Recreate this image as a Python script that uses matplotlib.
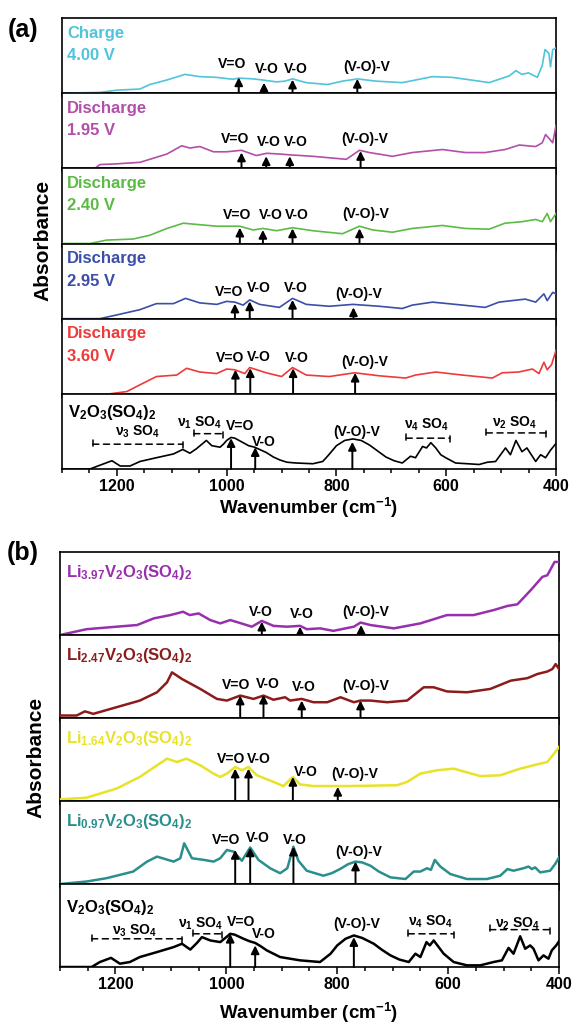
import matplotlib
matplotlib.use('Agg')
import matplotlib.pyplot as plt
from matplotlib.ticker import MultipleLocator

plt.rcParams['font.family'] = ['Liberation Sans', 'DejaVu Sans']
plt.rcParams['font.weight'] = 'bold'
plt.rcParams['mathtext.fontset'] = 'custom'
plt.rcParams['mathtext.rm'] = 'Liberation Sans:bold'
plt.rcParams['mathtext.bf'] = 'Liberation Sans:bold'
plt.rcParams['mathtext.it'] = 'Liberation Sans:bold'
plt.rcParams['mathtext.default'] = 'bf'

# ================================
# (a) ex-situ spectra at different voltages (normalised, 0 = baseline of strip)
# ================================
wn_a1 = [1300, 1231, 1200, 1158, 1140, 1109, 1076, 1049, 1018, 989, 978, 952, 934, 909, 894,
         880, 855, 816, 789, 762, 728, 680, 625, 589, 540, 522, 485, 473, 462, 450, 434, 425,
         420, 413, 410, 406, 400]
ab_a1 = [0, 0.01, 0.04, 0.055, 0.115, 0.175, 0.25, 0.22, 0.21, 0.185, 0.2, 0.19, 0.175, 0.15, 0.16,
         0.19, 0.14, 0.115, 0.16, 0.19, 0.16, 0.14, 0.22, 0.21, 0.16, 0.14, 0.23, 0.30, 0.25, 0.27,
         0.21, 0.37, 0.58, 0.53, 0.35, 0.58, 0.60]

wn_a2 = [1300, 1240, 1231, 1200, 1158, 1140, 1109, 1082, 1067, 1049, 1024, 1000, 973, 946, 927,
         903, 886, 843, 782, 758, 740, 698, 662, 607, 565, 529, 493, 467, 437, 425, 419, 413, 406, 400]
ab_a2 = [0, 0, 0.05, 0.06, 0.08, 0.12, 0.19, 0.30, 0.27, 0.29, 0.22, 0.22, 0.24, 0.17, 0.20,
         0.19, 0.18, 0.16, 0.12, 0.24, 0.21, 0.16, 0.21, 0.25, 0.21, 0.21, 0.25, 0.31, 0.29, 0.34,
         0.45, 0.40, 0.34, 0.57]

wn_a3 = [1300, 1249, 1219, 1170, 1140, 1109, 1079, 1049, 1018, 976, 952, 934, 909, 880, 843,
         789, 758, 734, 698, 662, 607, 565, 522, 493, 462, 437, 425, 416, 410, 400]
ab_a3 = [0, 0, 0.045, 0.06, 0.11, 0.20, 0.27, 0.25, 0.23, 0.23, 0.18, 0.20, 0.17, 0.21, 0.17,
         0.13, 0.23, 0.18, 0.15, 0.20, 0.24, 0.20, 0.19, 0.27, 0.29, 0.32, 0.29, 0.40, 0.29, 0.40]

wn_a4 = [1300, 1231, 1200, 1158, 1128, 1097, 1075, 1049, 1018, 1000, 985, 970, 958, 940, 904,
         880, 855, 813, 770, 722, 680, 662, 625, 583, 529, 504, 480, 456, 437, 422, 416, 406, 400]
ab_a4 = [0, 0, 0.05, 0.12, 0.20, 0.20, 0.27, 0.21, 0.19, 0.23, 0.22, 0.18, 0.25, 0.19, 0.15,
         0.27, 0.19, 0.165, 0.19, 0.165, 0.135, 0.18, 0.22, 0.19, 0.15, 0.22, 0.24, 0.26, 0.22,
         0.33, 0.24, 0.35, 0.33]

wn_a5 = [1300, 1213, 1182, 1158, 1128, 1091, 1073, 1049, 1018, 1000, 985, 967, 958, 928, 900,
         880, 855, 813, 767, 722, 674, 656, 619, 571, 516, 498, 468, 443, 431, 422, 416, 408, 400]
ab_a5 = [0, 0, 0.03, 0.12, 0.23, 0.25, 0.34, 0.29, 0.27, 0.33, 0.32, 0.27, 0.35, 0.28, 0.23,
         0.35, 0.25, 0.23, 0.28, 0.24, 0.21, 0.25, 0.29, 0.25, 0.21, 0.28, 0.29, 0.33, 0.27, 0.42,
         0.32, 0.39, 0.58]

wn_ref = [1300, 1249, 1231, 1209, 1194, 1176, 1158, 1128, 1097, 1080, 1067, 1055, 1037, 1027, 1012,
          1006, 1000, 992, 985, 970, 960, 949, 940, 928, 915, 903, 890, 874, 843, 825, 815, 800,
          785, 770, 755, 740, 725, 710, 695, 680, 665, 656, 643, 636, 628, 619, 610, 601, 583,
          540, 525, 510, 492, 483, 473, 462, 453, 437, 428, 419, 410, 400]
ab_ref = [0, 0, 0.05, 0.11, 0.04, 0.04, 0.10, 0.15, 0.20, 0.26, 0.21, 0.27, 0.38, 0.31, 0.29,
          0.33, 0.38, 0.42, 0.41, 0.35, 0.31, 0.29, 0.26, 0.22, 0.16, 0.12, 0.09, 0.08, 0.07, 0.10,
          0.18, 0.31, 0.38, 0.40, 0.38, 0.32, 0.24, 0.16, 0.11, 0.08, 0.17, 0.15, 0.30, 0.28, 0.35,
          0.28, 0.19, 0.15, 0.08, 0.06, 0.09, 0.10, 0.28, 0.19, 0.38, 0.23, 0.28, 0.10, 0.19, 0.15,
          0.25, 0.34]

# ================================
# (b) chemically lithiated samples
# ================================
wn_b1 = [1300, 1252, 1198, 1161, 1131, 1101, 1078, 1066, 1050, 1029, 1011, 993, 978, 954, 936,
         915, 891, 867, 855, 831, 807, 770, 758, 740, 698, 650, 602, 554, 518, 493, 475, 451, 430,
         421, 408, 400]
ab_b1 = [0, 0.07, 0.10, 0.12, 0.20, 0.24, 0.28, 0.24, 0.26, 0.18, 0.14, 0.18, 0.15, 0.10, 0.17,
         0.11, 0.10, 0.11, 0.07, 0.08, 0.05, 0.10, 0.15, 0.12, 0.08, 0.14, 0.24, 0.24, 0.30, 0.35,
         0.37, 0.54, 0.70, 0.72, 0.88, 0.88]

wn_b2 = [1300, 1270, 1255, 1240, 1198, 1156, 1125, 1107, 1098, 1080, 1047, 1017, 999, 975, 951,
         933, 915, 894, 885, 864, 843, 818, 794, 770, 758, 740, 710, 674, 644, 626, 602, 566, 524,
         487, 457, 439, 421, 412, 406, 400]
ab_b2 = [0.03, 0.03, 0.08, 0.05, 0.13, 0.21, 0.31, 0.43, 0.55, 0.47, 0.35, 0.23, 0.21, 0.27, 0.23,
         0.27, 0.22, 0.25, 0.21, 0.23, 0.19, 0.19, 0.25, 0.19, 0.21, 0.21, 0.19, 0.21, 0.37, 0.37,
         0.32, 0.31, 0.35, 0.45, 0.48, 0.53, 0.56, 0.59, 0.65, 0.59]

wn_b3 = [1300, 1252, 1198, 1156, 1125, 1107, 1089, 1072, 1047, 1023, 1011, 999, 984, 972, 960,
         945, 915, 897, 880, 867, 843, 782, 692, 674, 650, 620, 590, 542, 506, 470, 440, 421, 409, 400]
ab_b3 = [0.02, 0.04, 0.15, 0.29, 0.43, 0.51, 0.47, 0.51, 0.43, 0.33, 0.29, 0.33, 0.41, 0.37, 0.41,
         0.31, 0.23, 0.18, 0.29, 0.20, 0.18, 0.18, 0.19, 0.23, 0.33, 0.37, 0.39, 0.30, 0.31, 0.39,
         0.44, 0.47, 0.57, 0.65]

wn_b4 = [1300, 1252, 1216, 1168, 1143, 1125, 1095, 1083, 1076, 1062, 1040, 1023, 1011, 999, 987,
         972, 957, 942, 921, 903, 890, 879, 870, 855, 825, 810, 795, 780, 767, 755, 740, 725, 704,
         677, 662, 650, 638, 631, 624, 614, 596, 566, 530, 506, 493, 482, 464, 455, 449, 443, 434,
         416, 407, 399]
ab_b4 = [0, 0.03, 0.07, 0.15, 0.27, 0.33, 0.27, 0.31, 0.49, 0.31, 0.29, 0.27, 0.31, 0.41, 0.39,
         0.28, 0.44, 0.29, 0.19, 0.13, 0.19, 0.45, 0.28, 0.16, 0.10, 0.13, 0.18, 0.24, 0.27, 0.26,
         0.22, 0.15, 0.08, 0.06, 0.15, 0.15, 0.19, 0.17, 0.29, 0.21, 0.12, 0.06, 0.06, 0.10, 0.18,
         0.16, 0.19, 0.21, 0.18, 0.20, 0.14, 0.16, 0.24, 0.33]

wn_b5 = [1300, 1243, 1228, 1208, 1192, 1174, 1156, 1125, 1095, 1080, 1065, 1053, 1044, 1029, 1011,
         1000, 993, 985, 969, 958, 948, 938, 927, 915, 903, 885, 867, 831, 812, 800, 785, 770, 755,
         734, 720, 704, 688, 671, 659, 650, 639, 633, 626, 617, 608, 590, 566, 542, 518, 503, 491,
         482, 470, 461, 452, 446, 437, 428, 419, 413, 405, 399]
ab_b5 = [0, 0, 0.06, 0.11, 0.04, 0.06, 0.12, 0.18, 0.24, 0.28, 0.21, 0.29, 0.36, 0.32, 0.30,
         0.36, 0.40, 0.39, 0.34, 0.31, 0.29, 0.25, 0.20, 0.16, 0.12, 0.10, 0.08, 0.06, 0.16, 0.26,
         0.34, 0.38, 0.35, 0.28, 0.21, 0.14, 0.09, 0.06, 0.16, 0.12, 0.30, 0.26, 0.32, 0.24, 0.16,
         0.06, 0.02, 0.02, 0.06, 0.08, 0.23, 0.16, 0.37, 0.22, 0.26, 0.22, 0.08, 0.14, 0.10, 0.20,
         0.26, 0.32]

ref_name = r'V$_2$O$_3$(SO$_4$)$_2$'

a_series = [(wn_a1, ab_a1, '#4fc4db', ['Charge', '4.00 V']),
            (wn_a2, ab_a2, '#b24fa9', ['Discharge', '1.95 V']),
            (wn_a3, ab_a3, '#5cbb45', ['Discharge', '2.40 V']),
            (wn_a4, ab_a4, '#3b4ea8', ['Discharge', '2.95 V']),
            (wn_a5, ab_a5, '#ee3a3a', ['Discharge', '3.60 V']),
            (wn_ref, ab_ref, 'black', [ref_name])]

b_series = [(wn_b1, ab_b1, '#9830ad', [r'Li$_{3.97}$V$_2$O$_3$(SO$_4$)$_2$']),
            (wn_b2, ab_b2, '#8c1c1c', [r'Li$_{2.47}$V$_2$O$_3$(SO$_4$)$_2$']),
            (wn_b3, ab_b3, '#e8e229', [r'Li$_{1.64}$V$_2$O$_3$(SO$_4$)$_2$']),
            (wn_b4, ab_b4, '#2a8f8c', [r'Li$_{0.97}$V$_2$O$_3$(SO$_4$)$_2$']),
            (wn_b5, ab_b5, 'black', [ref_name])]

# arrows: (arrow wavenumber, arrow tip, text wavenumber, text height, label)
a_marks = [
    [(978, .21, 991, .39, 'V=O'), (932, .14, 927, .32, 'V-O'), (880, .18, 874, .32, 'V-O'), (762, .19, 745, .35, '(V-O)-V')],
    [(973, .21, 984, .39, 'V=O'), (928, .16, 924, .35, 'V-O'), (885, .16, 874, .35, 'V-O'), (756, .23, 749, .39, '(V-O)-V')],
    [(976, .21, 981, .38, 'V=O'), (934, .18, 920, .38, 'V-O'), (880, .20, 873, .38, 'V-O'), (758, .20, 747, .39, '(V-O)-V')],
    [(985, .20, 996, .36, 'V=O'), (958, .23, 942, .41, 'V-O'), (880, .25, 874, .41, 'V-O'), (769, .15, 760, .33, '(V-O)-V')],
    [(984, .32, 994, .48, 'V=O'), (957, .34, 942, .49, 'V-O'), (879, .34, 872, .48, 'V-O'), (766, .28, 749, .43, '(V-O)-V')],
    [(992, .41, 975, .57, 'V=O'), (948, .29, 933, .36, 'V-O'), (771, .36, 763, .49, '(V-O)-V')],
]
b_marks = [
    [(936, .16, 937, .28, 'V-O'), (867, .10, 863, .25, 'V-O'), (757, .12, 749, .28, '(V-O)-V')],
    [(975, .27, 982, .40, 'V=O'), (933, .28, 925, .41, 'V-O'), (864, .21, 860, .37, 'V-O'), (758, .21, 749, .39, '(V-O)-V')],
    [(984, .39, 991, .51, 'V=O'), (960, .39, 941, .51, 'V-O'), (880, .29, 856, .35, 'V-O'), (799, .17, 769, .33, '(V-O)-V')],
    [(984, .41, 1000, .53, 'V=O'), (957, .44, 944, .55, 'V-O'), (879, .45, 876, .53, 'V-O'), (767, .27, 762, .39, '(V-O)-V')],
    [(993, .40, 973, .54, 'V=O'), (948, .26, 932, .40, 'V-O'), (770, .36, 764, .52, '(V-O)-V')],
]

# sulfate bands on the reference: (text wn, text y, label, bar start, bar end, bar y)
a_bands = [(1162, .50, r'ν$_3$ SO$_4$', 1244, 1080, .33),
           (1049, .61, r'ν$_1$ SO$_4$', 1060, 1007, .47),
           (635, .59, r'ν$_4$ SO$_4$', 673, 593, .41),
           (476, .61, r'ν$_2$ SO$_4$', 527, 418, .48)]
b_bands = [(1166, .44, r'ν$_3$ SO$_4$', 1243, 1080, .34),
           (1047, .52, r'ν$_1$ SO$_4$', 1060, 1008, .40),
           (632, .54, r'ν$_4$ SO$_4$', 672, 590, .40),
           (475, .52, r'ν$_2$ SO$_4$', 525, 417, .45)]

W, H = 572, 1026
fig = plt.figure(figsize=(W / 100, H / 100), dpi=100)


def panel(left, right, top, bottom, series, marks, bands, lw, label_y):
    n = len(series)
    h = (bottom - top) / n
    axs = []
    for i, (wn, ab, col, lab) in enumerate(series):
        ax = fig.add_axes([left / W, 1 - (top + (i + 1) * h) / H, (right - left) / W, h / H])
        ax.plot(wn, ab, color=col, lw=lw, zorder=3)
        ax.set_xlim(1300, 400)
        ax.set_ylim(0, 1)
        ax.set_yticks([])
        ax.xaxis.set_major_locator(MultipleLocator(200))
        ax.xaxis.set_minor_locator(MultipleLocator(50))
        ax.tick_params(axis='x', which='major', direction='out', length=5, width=1.1,
                       labelsize=11.5, pad=2, labelbottom=(i == n - 1))
        ax.tick_params(axis='x', which='minor', direction='out', length=3, width=1.1)
        for s in ax.spines.values():
            s.set_linewidth(1.2)
        if len(lab) == 2:
            ax.text(0.01, 0.80, lab[0], transform=ax.transAxes, color=col, fontsize=12, va='center')
            ax.text(0.01, 0.50, lab[1], transform=ax.transAxes, color=col, fontsize=12, va='center')
        else:
            ax.text(0.012, label_y[i], lab[0], transform=ax.transAxes, color=col, fontsize=12, va='center')
        for (aw, tip, tw, ty, txt) in marks[i]:
            ax.annotate('', xy=(aw, tip), xytext=(aw, 0),
                        arrowprops=dict(arrowstyle='-|>', color='k', lw=1.4,
                                        mutation_scale=12, shrinkA=0, shrinkB=0))
            ax.text(tw, ty, txt, ha='center', va='center', fontsize=10)
        axs.append(ax)
    ref = axs[-1]
    for (tw, ty, txt, w1, w2, by) in bands:
        ref.text(tw, ty, txt, ha='center', va='center', fontsize=10)
        ref.annotate('', xy=(w2, by), xytext=(w1, by),
                     arrowprops=dict(arrowstyle='|-|,widthA=0.3,widthB=0.3', color='k', lw=1.1,
                                     ls=(0, (4, 3)), shrinkA=0, shrinkB=0))
    return axs


panel(62, 556, 18, 469, a_series, a_marks, a_bands, 1.2, [0, 0, 0, 0, 0, 0.75])
panel(60, 559, 552, 967, b_series, b_marks, b_bands, 1.8, [0.75, 0.75, 0.75, 0.75, 0.72])

fig.text(23 / W, 1 - 30 / H, '(a)', fontsize=18, ha='center', va='center')
fig.text(23 / W, 1 - 553 / H, '(b)', fontsize=18, ha='center', va='center')
fig.text(43 / W, 1 - 240 / H, 'Absorbance', fontsize=15, rotation=90, ha='center', va='center')
fig.text(36 / W, 1 - 757 / H, 'Absorbance', fontsize=15, rotation=90, ha='center', va='center')
fig.text(309 / W, 1 - 508 / H, r'Wavenumber (cm$^{-1}$)', fontsize=13.5, ha='center', va='center')
fig.text(309 / W, 1 - 1013 / H, r'Wavenumber (cm$^{-1}$)', fontsize=13.5, ha='center', va='center')

plt.savefig('out.png', dpi=100)
